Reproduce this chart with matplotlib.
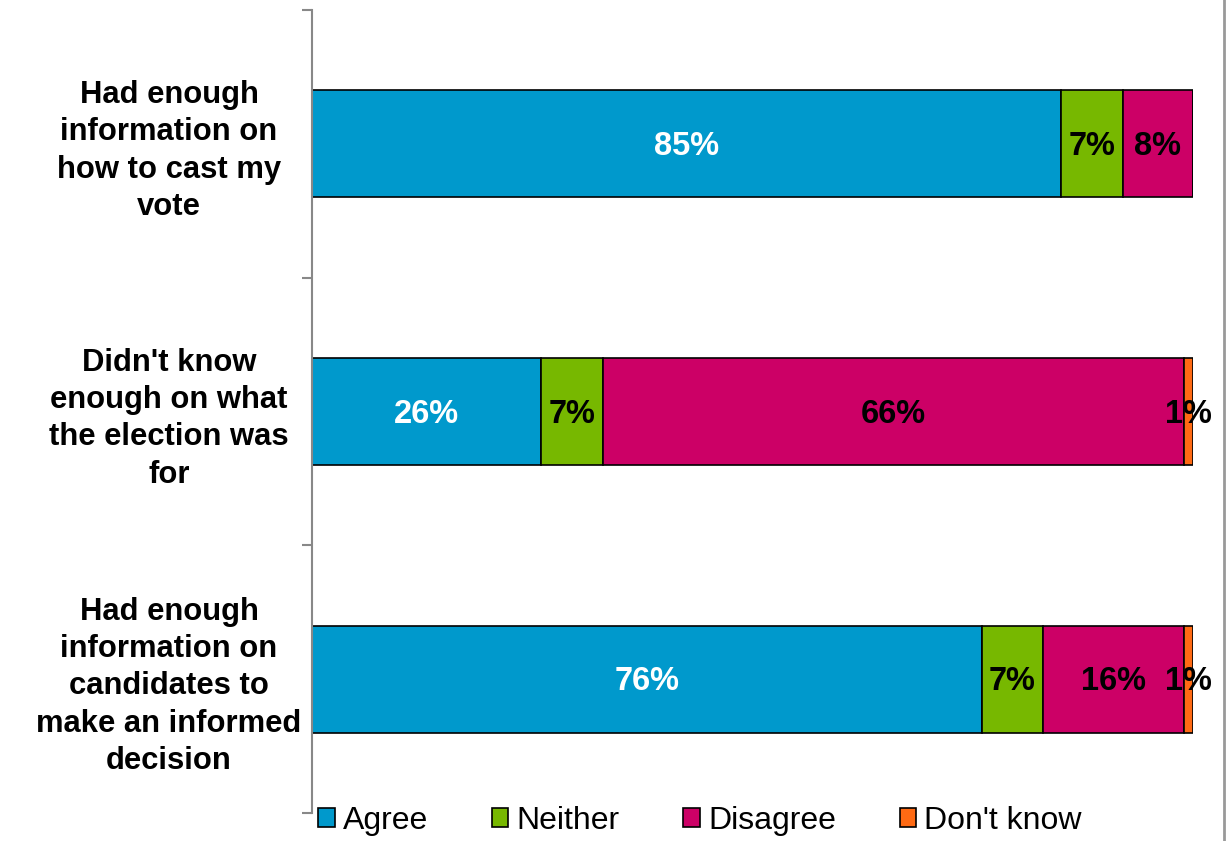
import matplotlib.pyplot as plt
from matplotlib.lines import Line2D
from matplotlib.patches import Patch

plt.rcParams['font.family'] = ['Liberation Sans', 'DejaVu Sans']

categories = [
    "Had enough\ninformation on\nhow to cast my\nvote",
    "Didn't know\nenough on what\nthe election was\nfor",
    "Had enough\ninformation on\ncandidates to\nmake an informed\ndecision",
]
series = ["Agree", "Neither", "Disagree", "Don't know"]
agree = [85, 26, 76]
neither = [7, 7, 7]
disagree = [8, 66, 16]
dont_know = [0, 1, 1]
colors = ["#0099CC", "#77B800", "#CC0066", "#FF6A13"]
label_colors = ["white", "black", "black", "black"]

fig = plt.figure(figsize=(12.3, 8.41), dpi=100)
ax = fig.add_axes([312 / 1230, 1 - 813 / 841, (1193 - 312) / 1230, (813 - 10) / 841])

y = list(range(len(categories)))
left = [0, 0, 0]
for vals, col, tcol in zip([agree, neither, disagree, dont_know], colors, label_colors):
    bars = ax.barh(y, vals, left=left, height=0.4, color=col,
                   edgecolor='black', linewidth=1.2)
    for b, v in zip(bars, vals):
        if v > 0:
            ax.text(b.get_x() + b.get_width() / 2, b.get_y() + b.get_height() / 2 + 0.01,
                    f"{v}%", ha='center', va='center', color=tcol,
                    fontsize=23.5, fontweight='bold')
    left = [l + v for l, v in zip(left, vals)]

ax.set_xlim(0, 100)
ax.set_ylim(2.5, -0.5)
ax.set_xticks([])
ax.set_yticks(y)
ax.set_yticklabels(categories, fontsize=22.3, fontweight='bold',
                   ha='center', multialignment='center', linespacing=1.32)
ax.tick_params(axis='y', which='major', length=0, pad=103)
ax.set_yticks([-0.5, 0.5, 1.5, 2.5], minor=True)
ax.tick_params(axis='y', which='minor', length=7, width=1.5, color='#888888')
for s in ['top', 'right', 'bottom']:
    ax.spines[s].set_visible(False)
ax.spines['left'].set_color('#888888')
ax.spines['left'].set_linewidth(1.5)

handles = [Patch(facecolor=c, edgecolor='black', linewidth=1.2) for c in colors]
fig.legend(handles, series, loc='center', bbox_to_anchor=(700 / 1230, 1 - 821 / 841),
           ncol=4, frameon=False, fontsize=23, handlelength=0.52, handleheight=0.52,
           handletextpad=0.25, columnspacing=2.0, borderpad=0, borderaxespad=0)

fig.add_artist(Line2D([1223.5 / 1230] * 2, [0, 1], color='#999999', linewidth=2,
                      transform=fig.transFigure))

fig.savefig("out.png", dpi=100)
